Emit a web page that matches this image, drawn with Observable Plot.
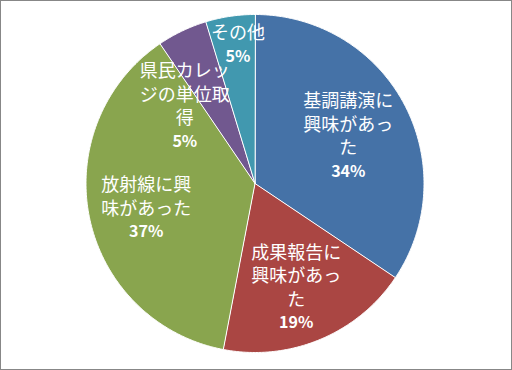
<!DOCTYPE html>
<html><head><meta charset="utf-8">
<script src="https://cdn.jsdelivr.net/npm/d3@7"></script>
<script src="https://cdn.jsdelivr.net/npm/@observablehq/plot@0.6"></script>
<style>
body{margin:0;background:#fff}
#chart svg{display:block;outline:1px solid #878787;outline-offset:-1px;background:#fff}
</style>
</head><body><div id="chart"></div>
<script>
// Data
const categories = ["基調講演に興味があった","成果報告に興味があった","放射線に興味があった","県民カレッジの単位取得","その他"];
const labelLines = ["基調講演に\n興味があっ\nた","成果報告に\n興味があっ\nた","放射線に興\n味があった","県民カレッ\nジの単位取\n得","その他"];
const values = [34.4, 18.6, 37.5, 4.8, 4.7];
const percentLabels = ["34%","19%","37%","5%","5%"];
const colors = ["#4572A7","#AA4643","#89A54E","#71588F","#4198AF"];

// Layout (not data)
const W = 512, H = 370, R = 169, cx = 254.5, cy = 183;
const labelRadius = [0.62, 0.66, 0.66, 0.62, 0.83];
const labelShift = [1, 1, -1, -16.5, 1.5]; // degrees
const lineH = 23.5;
const pctGap = 25;
const font = "'Noto Sans CJK JP', 'Noto Sans', sans-serif";

const total = d3.sum(values);
const pts = [];
const labels = [];
let acc = 0;
values.forEach((v, i) => {
  const a0 = acc / total * 2 * Math.PI;
  acc += v;
  const a1 = acc / total * 2 * Math.PI;
  pts.push({cat: categories[i], x: 0, y: 0});
  const n = Math.max(2, Math.ceil((a1 - a0) / (Math.PI / 360)));
  for (let k = 0; k <= n; k++) {
    const t = a0 + (a1 - a0) * k / n;
    pts.push({cat: categories[i], x: Math.sin(t), y: Math.cos(t)});
  }
  const mid = (a0 + a1) / 2 + labelShift[i] * Math.PI / 180;
  const lx = Math.sin(mid) * labelRadius[i];
  const ly = Math.cos(mid) * labelRadius[i];
  const nl = labelLines[i].split("\n").length;
  // block: nl name lines (spacing lineH) then the percent line pctGap below
  const blockH = (nl - 1) * lineH + pctGap;
  const topLine = ly * R + blockH / 2;
  const nameCenter = topLine - (nl - 1) * lineH / 2;
  const pctCenter = topLine - blockH;
  labels.push({
    x: lx,
    yName: nameCenter / R,
    yPct: pctCenter / R,
    name: labelLines[i],
    pct: percentLabels[i]
  });
});

const chart = Plot.plot({
  width: W, height: H,
  marginLeft: cx - R, marginRight: W - (cx + R),
  marginTop: cy - R, marginBottom: H - (cy + R),
  x: {domain: [-1, 1], axis: null},
  y: {domain: [-1, 1], axis: null},
  color: {domain: categories, range: colors},
  style: {background: "#fff", fontFamily: font},
  marks: [
    Plot.line(pts, {x: "x", y: "y", z: "cat", fill: "cat", stroke: "white", strokeWidth: 1, curve: "linear-closed"}),
    Plot.text(labels, {x: "x", y: "yName", text: "name", fill: "white", fontSize: 18, lineHeight: lineH / 18, fontFamily: font}),
    Plot.text(labels, {x: "x", y: "yPct", text: "pct", fill: "white", fontSize: 16, fontWeight: "bold", fontFamily: font})
  ]
});
document.getElementById("chart").append(chart);
</script>
</body></html>
